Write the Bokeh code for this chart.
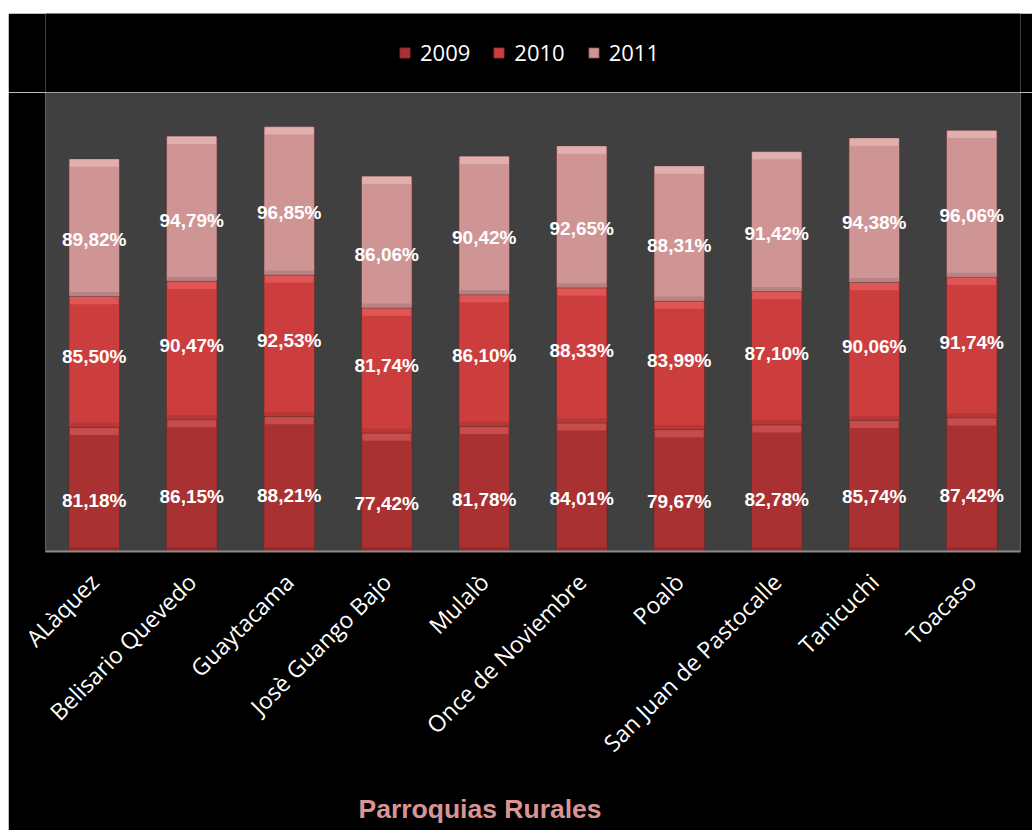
import math
from bokeh.plotting import figure
from bokeh.layouts import column
from bokeh.models import (ColumnDataSource, FactorRange, Range1d, Legend, LegendItem, Title)
from bokeh.core.properties import value
from bokeh.embed import file_html
from bokeh.resources import INLINE

parroquias = ["ALàquez", "Belisario Quevedo", "Guaytacama", "Josè Guango Bajo", "Mulalò",
              "Once de Noviembre", "Poalò", "San Juan de Pastocalle", "Tanicuchi", "Toacaso"]
v2009 = [81.18, 86.15, 88.21, 77.42, 81.78, 84.01, 79.67, 82.78, 85.74, 87.42]
v2010 = [85.50, 90.47, 92.53, 81.74, 86.10, 88.33, 83.99, 87.10, 90.06, 91.74]
v2011 = [89.82, 94.79, 96.85, 86.06, 90.42, 92.65, 88.31, 91.42, 94.38, 96.06]
years = ["2009", "2010", "2011"]

fill_colors = ["#a93131", "#cc3e3e", "#cf9494"]
top_colors = ["#e06262", "#f06a6a", "#f2c4c4"]
low_colors = ["#8a2626", "#a83232", "#a87676"]
label_offsets = [11, -5, 12]

def fmt(v):
    return f"{v:.2f}".replace(".", ",") + "%"

# ---- legend strip (separate figure so the legend is not clipped by the plot frame)
lf = figure(x_range=Range1d(0, 1), y_range=Range1d(0, 1), frame_width=975, frame_height=79,
            min_border_left=37, min_border_right=12, min_border_top=0, min_border_bottom=0,
            output_backend="svg", toolbar_location=None,
            x_axis_location=None, y_axis_location=None)
lf.background_fill_color = "black"
lf.border_fill_color = "black"
lf.outline_line_color = "black"
lf.outline_line_alpha = 0
lf.grid.visible = False
# legend-only renderers: one off-range bar each, so that the legend can draw its swatch
lrs = []
for c in fill_colors:
    lrs.append(lf.vbar(x=[-5], top=[-5], bottom=[-6], width=0.5, fill_color=c,
                       line_color="#5a2a2a", line_alpha=0.6))
legend = Legend(items=[LegendItem(label=y, renderers=[r]) for y, r in zip(years, lrs)],
                orientation="horizontal", location=(353, 25),
                background_fill_alpha=0,
                border_line_color=None, label_text_color="white",
                label_text_font="Open Sans", label_text_font_size="22px",
                glyph_width=13, glyph_height=13, spacing=22, label_standoff=9,
                padding=0, margin=0)
lf.add_layout(legend, "center")

# ---- main chart
p = figure(x_range=FactorRange(*parroquias), y_range=Range1d(0, 300),
           frame_width=975, frame_height=459, output_backend="svg", toolbar_location=None,
           min_border_left=37, min_border_right=12, min_border_top=0, min_border_bottom=279)
p.background_fill_color = "#404040"
p.border_fill_color = "black"
p.outline_line_color = None
p.xgrid.visible = False
p.ygrid.visible = False
p.yaxis.visible = False

series = [v2009, v2010, v2011]
bottoms = [0.0] * len(parroquias)
bw = 0.52
for i, vals in enumerate(series):
    tops = [b + v for b, v in zip(bottoms, vals)]
    mids = [(b + t) / 2 for b, t in zip(bottoms, tops)]
    src = ColumnDataSource(dict(x=parroquias, bottom=bottoms, top=tops, mid=mids,
                                hl=[t - 5 for t in tops], lo=[b + 3 for b in bottoms],
                                label=[fmt(v) for v in vals]))
    p.vbar(x="x", bottom="bottom", top="top", width=bw, source=src,
           fill_color=fill_colors[i], line_color="#5a2a2a", line_alpha=0.6, line_width=1)
    p.vbar(x="x", bottom="hl", top="top", width=bw - 0.02, source=src,
           fill_color=top_colors[i], fill_alpha=0.55, line_color=None)
    p.vbar(x="x", bottom="bottom", top="lo", width=bw - 0.02, source=src,
           fill_color=low_colors[i], fill_alpha=0.6, line_color=None)
    p.text(x="x", y="mid", text="label", source=src, text_align="center",
           text_baseline="middle", y_offset=label_offsets[i], text_color="white",
           text_font=value("Liberation Sans"), text_font_style="bold", text_font_size="19px")
    bottoms = tops

ax = p.xaxis[0]
ax.major_label_orientation = math.pi / 4
ax.major_tick_line_color = None
ax.minor_tick_line_color = None
ax.axis_line_color = "#8c8c8c"
ax.axis_line_width = 2
ax.major_label_text_color = "white"
ax.major_label_text_font = "Open Sans"
ax.major_label_text_font_size = "23px"
ax.major_label_standoff = 20

t = Title(text="Parroquias Rurales", align="left", offset=313, text_color="#d99594",
          text_font="Liberation Sans", text_font_size="26.5px", text_font_style="bold",
          standoff=39)
p.add_layout(t, "below")

layout = column(lf, p, spacing=0, margin=(13, 0, 0, 8))
open("out.html", "w").write(file_html(layout, INLINE))
